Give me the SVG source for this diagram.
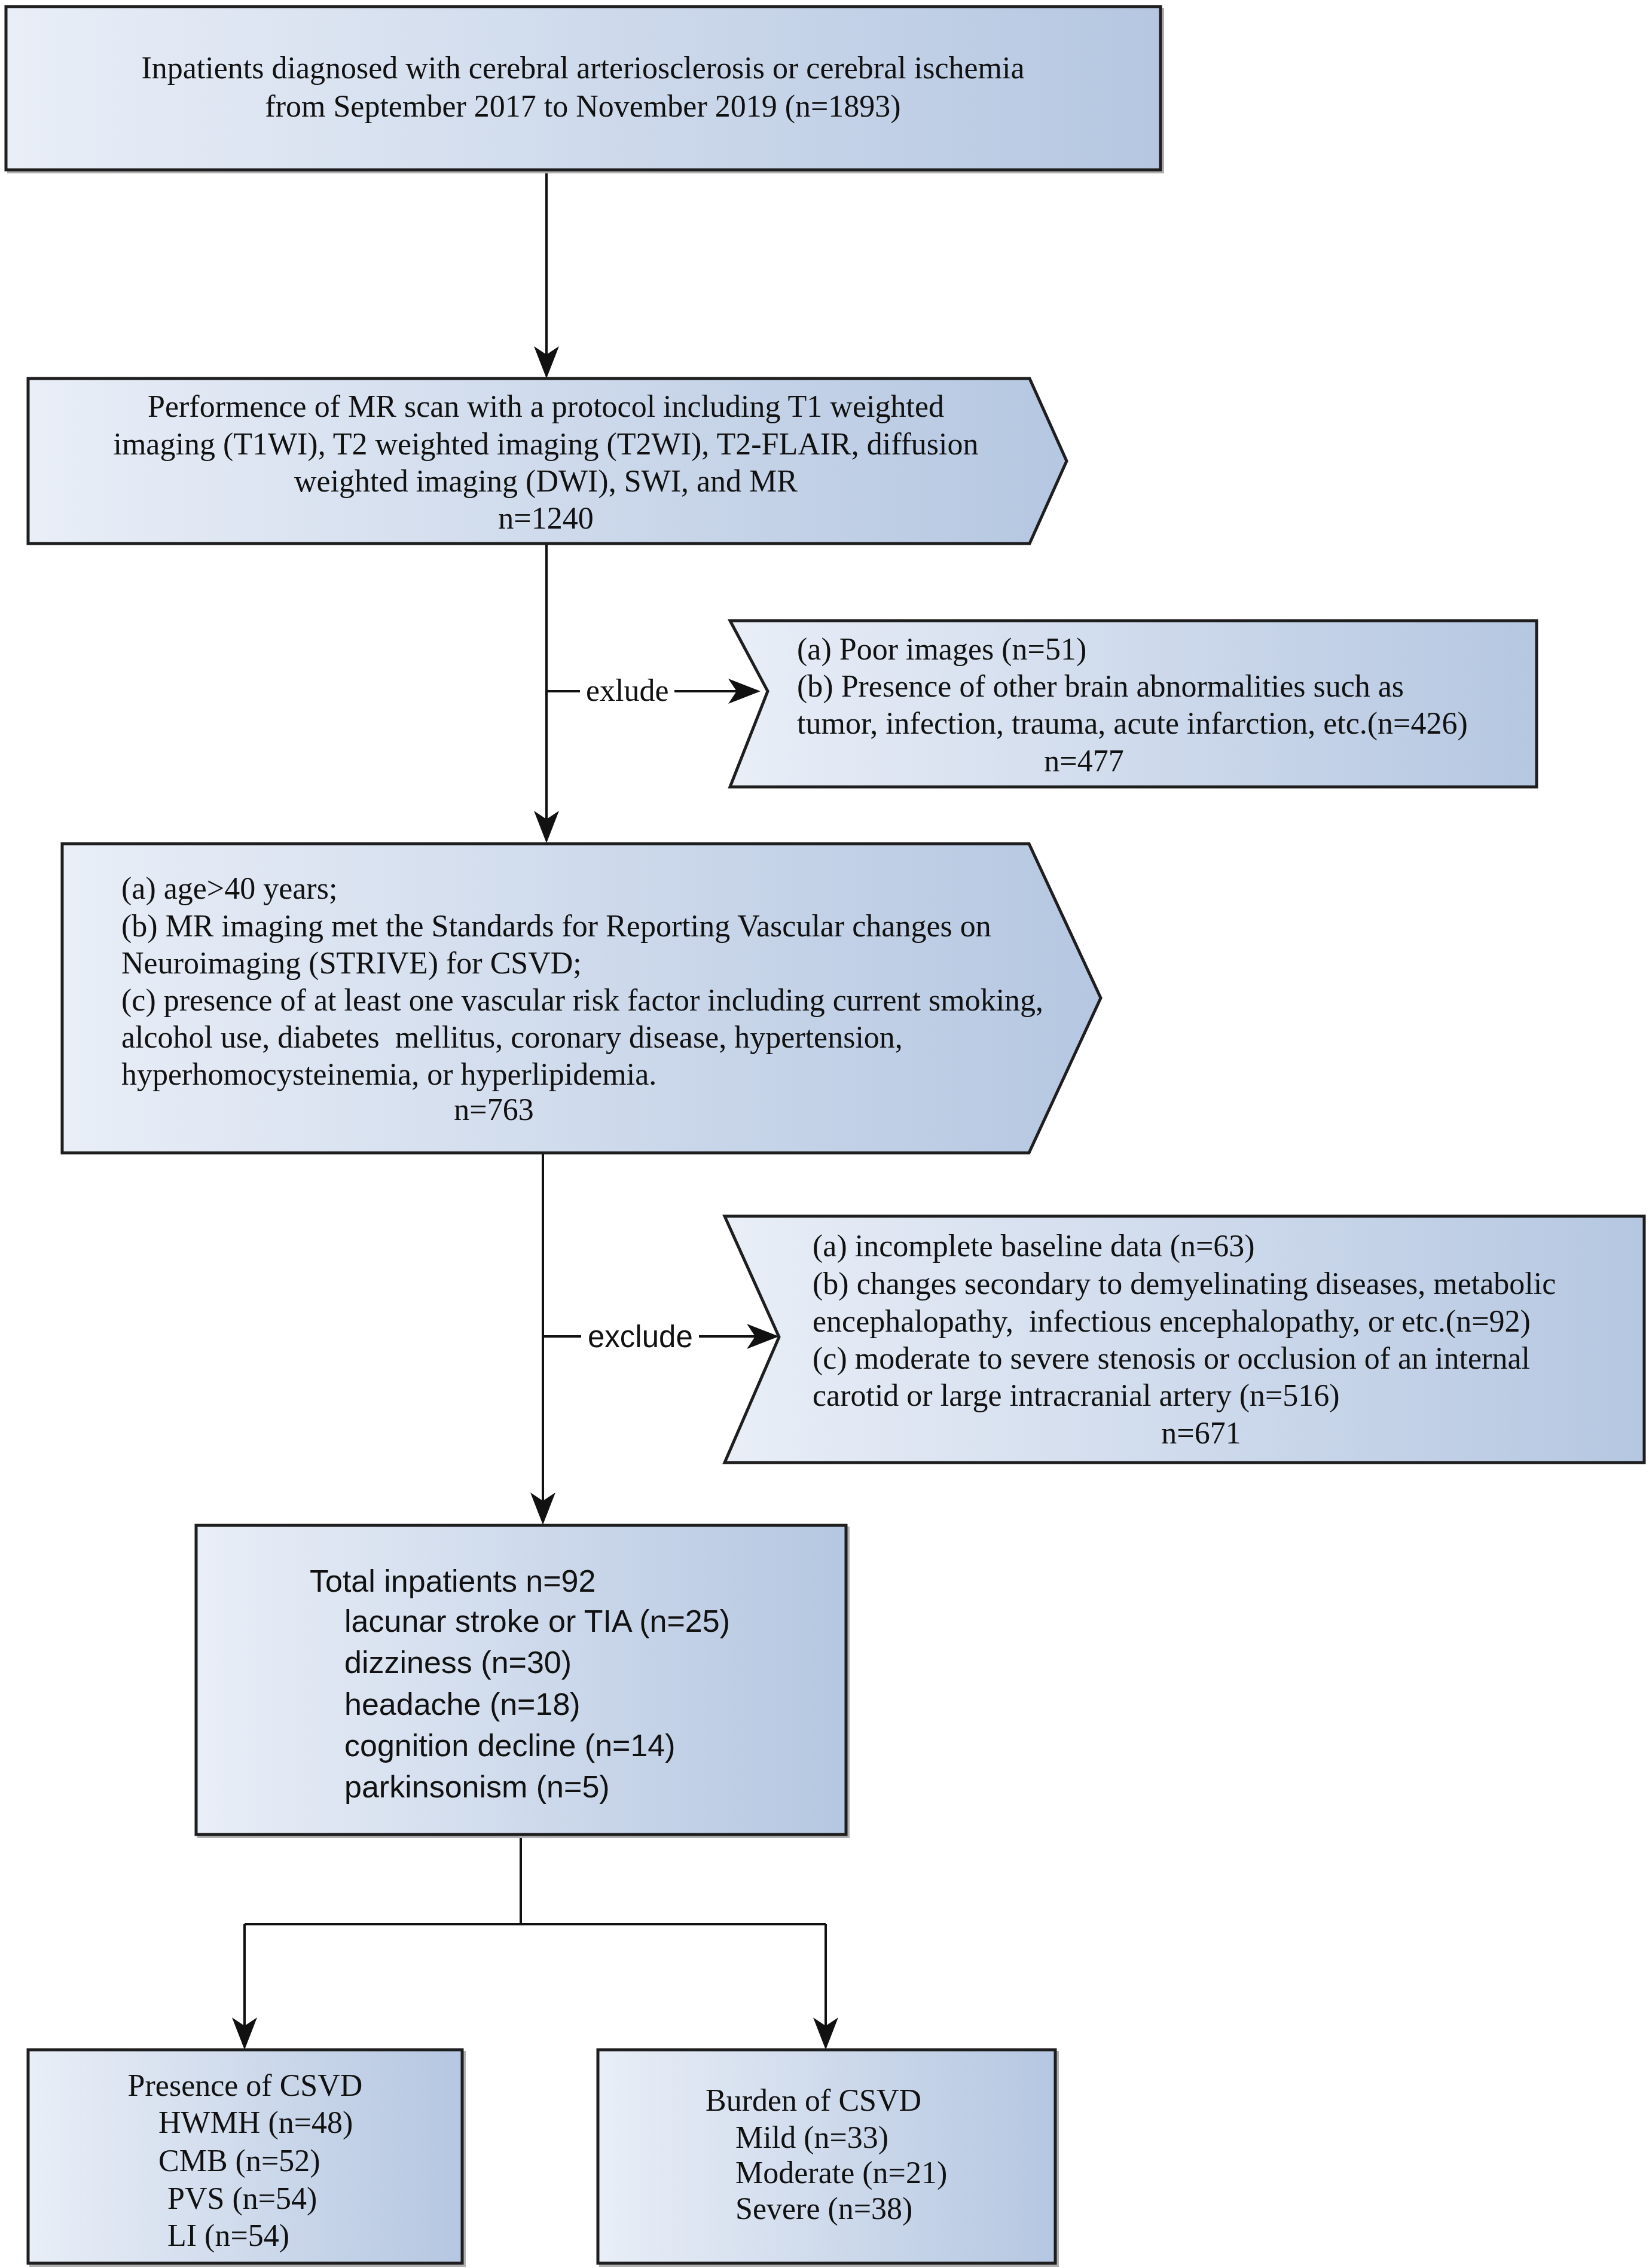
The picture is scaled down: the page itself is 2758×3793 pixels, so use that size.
<svg xmlns="http://www.w3.org/2000/svg" width="2758" height="3793" viewBox="0 0 2758 3793">
<style>
.bg{fill:#ffffff}
.box{fill:url(#grad);stroke:#1e1e1e;stroke-width:5;stroke-linejoin:miter}
.sh{fill:none;stroke:#b0b0b0;stroke-width:4}
.conn{fill:none;stroke:#111111;stroke-width:4}
.t{font-family:"Liberation Serif","Times New Roman",serif;font-size:52px;fill:#111111}
.s{font-family:"Liberation Sans",Arial,sans-serif;font-size:51px;fill:#111111}
.m{text-anchor:middle}
</style>
<defs>
<linearGradient id="grad" x1="0" y1="0" x2="1" y2="0">
<stop offset="0" stop-color="#e9eef7"/>
<stop offset="1" stop-color="#b5c7e1"/>
</linearGradient>
<marker id="arr" markerUnits="userSpaceOnUse" markerWidth="80" markerHeight="60" viewBox="-30 -30 80 60" refX="0" refY="0" orient="auto">
<path d="M30,0 L-24,-21 L-10,0 L-24,21 Z" fill="#111111"/>
</marker>
</defs>
<rect class="bg" x="0" y="0" width="2758" height="3793"/>

<g id="connectors">
<path class="conn" d="M914,285 V603" marker-end="url(#arr)"/>
<path class="conn" d="M914,909 V1380" marker-end="url(#arr)"/>
<path class="conn" d="M914,1156 H970"/>
<path class="conn" d="M1128,1156 H1242" marker-end="url(#arr)"/>
<path class="conn" d="M908,1928 V2520" marker-end="url(#arr)"/>
<path class="conn" d="M908,2235 H972"/>
<path class="conn" d="M1169,2235 H1273" marker-end="url(#arr)"/>
<path class="conn" d="M871,3068 V3218 M409,3218 H1381"/>
<path class="conn" d="M409,3218 V3398" marker-end="url(#arr)"/>
<path class="conn" d="M1381,3218 V3398" marker-end="url(#arr)"/>
<text class="t" x="980" y="1172">exlude</text>
<text class="s" x="983" y="2253">exclude</text>
</g>

<g id="node-inpatients">
<rect class="sh" x="14" y="15" width="1931" height="273"/>
<rect class="box" x="10" y="11" width="1931" height="273"/>
<text class="t m" x="975" y="131">Inpatients diagnosed with cerebral arteriosclerosis or cerebral ischemia</text>
<text class="t m" x="975" y="195">from September 2017 to November 2019 (n=1893)</text>
</g>

<g id="node-mrscan">
<polygon class="box" points="47,633 1722,633 1784,771 1722,909 47,909"/>
<text class="t m" x="913" y="697">Performence of MR scan with a protocol including T1 weighted</text>
<text class="t m" x="913" y="760">imaging (T1WI), T2 weighted imaging (T2WI), T2-FLAIR, diffusion</text>
<text class="t m" x="913" y="822">weighted imaging (DWI), SWI, and MR</text>
<text class="t m" x="913" y="884">n=1240</text>
</g>

<g id="node-exclude1">
<polygon class="box" points="1221,1038 2570,1038 2570,1316 1221,1316 1284,1156"/>
<text class="t" x="1333" y="1103">(a) Poor images (n=51)</text>
<text class="t" x="1333" y="1165">(b) Presence of other brain abnormalities such as</text>
<text class="t" x="1333" y="1227">tumor, infection, trauma, acute infarction, etc.(n=426)</text>
<text class="t m" x="1813" y="1290">n=477</text>
</g>

<g id="node-criteria">
<polygon class="box" points="104,1411 1721,1411 1841,1669 1721,1928 104,1928"/>
<text class="t" x="203" y="1503">(a) age&gt;40 years;</text>
<text class="t" x="203" y="1566">(b) MR imaging met the Standards for Reporting Vascular changes on</text>
<text class="t" x="203" y="1628">Neuroimaging (STRIVE) for CSVD;</text>
<text class="t" x="203" y="1690">(c) presence of at least one vascular risk factor including current smoking,</text>
<text class="t" x="203" y="1752" xml:space="preserve">alcohol use, diabetes  mellitus, coronary disease, hypertension,</text>
<text class="t" x="203" y="1814">hyperhomocysteinemia, or hyperlipidemia.</text>
<text class="t m" x="826" y="1873">n=763</text>
</g>

<g id="node-exclude2">
<polygon class="box" points="1212,2034 2750,2034 2750,2446 1212,2446 1303,2236"/>
<text class="t" x="1359" y="2101">(a) incomplete baseline data (n=63)</text>
<text class="t" x="1359" y="2164">(b) changes secondary to demyelinating diseases, metabolic</text>
<text class="t" x="1359" y="2227" xml:space="preserve">encephalopathy,  infectious encephalopathy, or etc.(n=92)</text>
<text class="t" x="1359" y="2289">(c) moderate to severe stenosis or occlusion of an internal</text>
<text class="t" x="1359" y="2351">carotid or large intracranial artery (n=516)</text>
<text class="t m" x="2009" y="2414">n=671</text>
</g>

<g id="node-total">
<rect class="sh" x="332" y="2555" width="1087" height="517"/>
<rect class="box" x="328" y="2551" width="1087" height="517"/>
<text class="s" x="518" y="2662" style="font-size:52px">Total inpatients n=92</text>
<text class="s" x="576" y="2729" style="font-size:52px">lacunar stroke or TIA (n=25)</text>
<text class="s" x="576" y="2798" style="font-size:52px">dizziness (n=30)</text>
<text class="s" x="576" y="2868" style="font-size:52px">headache (n=18)</text>
<text class="s" x="576" y="2937" style="font-size:52px">cognition decline (n=14)</text>
<text class="s" x="576" y="3006" style="font-size:52px">parkinsonism (n=5)</text>
</g>

<g id="node-presence">
<rect class="sh" x="51" y="3432" width="726" height="357"/>
<rect class="box" x="47" y="3428" width="726" height="357"/>
<text class="t m" x="410" y="3505">Presence of CSVD</text>
<text class="t" x="265" y="3567">HWMH (n=48)</text>
<text class="t" x="265" y="3631">CMB (n=52)</text>
<text class="t" x="280" y="3694">PVS (n=54)</text>
<text class="t" x="280" y="3756">LI (n=54)</text>
</g>

<g id="node-burden">
<rect class="sh" x="1004" y="3432" width="765" height="357"/>
<rect class="box" x="1000" y="3428" width="765" height="357"/>
<text class="t" x="1180" y="3530">Burden of CSVD</text>
<text class="t" x="1230" y="3592">Mild (n=33)</text>
<text class="t" x="1230" y="3651">Moderate (n=21)</text>
<text class="t" x="1230" y="3711">Severe (n=38)</text>
</g>
</svg>
